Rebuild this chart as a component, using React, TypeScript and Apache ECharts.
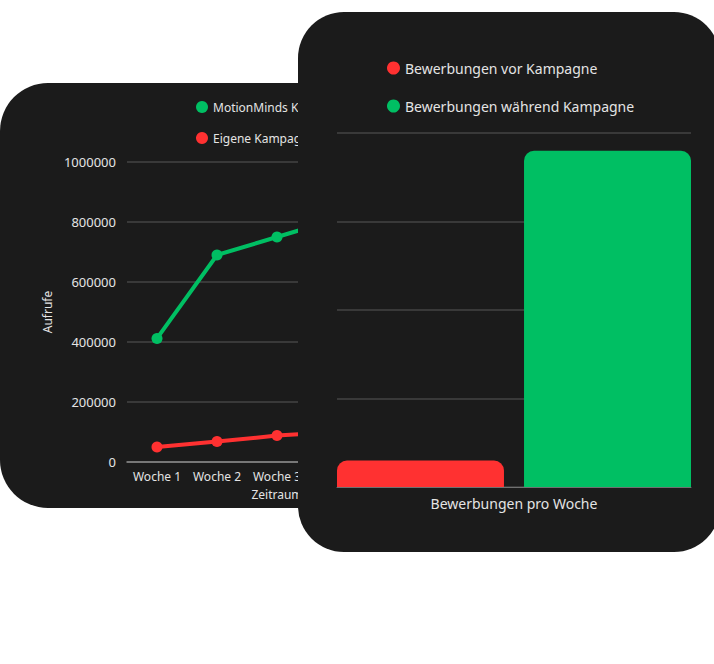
import React, { useEffect, useRef } from 'react';
import * as echarts from 'echarts';

const weeks = ['Woche 1', 'Woche 2', 'Woche 3', 'Woche 4', 'Woche 5'];
const motionMinds = [412000, 690000, 750000, 810000, 860000];
const ownCampaign = [50000, 68000, 88000, 100000, 115000];

const barCategories = ['Bewerbungen pro Woche'];
const beforeCampaign = [3];
const duringCampaign = [38];

const GREEN = '#00bf63';
const RED = '#ff3131';
const TEXT = '#e4e4e4';
const GRID_LINE = '#444444';
const FONT = '"Noto Sans", sans-serif';

const LineCard: React.FC = () => {
  const ref = useRef<HTMLDivElement>(null);

  useEffect(() => {
    if (!ref.current) return;
    const chart = echarts.init(ref.current, undefined, { renderer: 'svg' });

    chart.setOption({
      animation: false,
      textStyle: { fontFamily: FONT },
      legend: {
        orient: 'vertical',
        left: 191,
        top: 13,
        icon: 'circle',
        itemWidth: 12,
        itemHeight: 12,
        itemGap: 19,
        textStyle: { color: TEXT, fontSize: 12, fontFamily: FONT },
        data: ['MotionMinds Kampagne', 'Eigene Kampagne']
      },
      grid: { left: 127, top: 79, width: 300, height: 300 },
      xAxis: {
        type: 'category',
        data: weeks,
        name: 'Zeitraum',
        nameLocation: 'middle',
        nameGap: 26,
        nameTextStyle: { color: TEXT, fontSize: 12, fontFamily: FONT },
        axisLine: { lineStyle: { color: '#8c8c8c', width: 1.5 } },
        axisTick: { show: false },
        axisLabel: { color: TEXT, fontSize: 12, margin: 8, interval: 0, fontFamily: FONT }
      },
      yAxis: {
        type: 'value',
        min: 0,
        max: 1000000,
        interval: 200000,
        name: 'Aufrufe',
        nameLocation: 'middle',
        nameGap: 74,
        nameTextStyle: { color: TEXT, fontSize: 12, fontFamily: FONT },
        axisLine: { show: false },
        axisTick: { show: false },
        axisLabel: {
          color: TEXT,
          fontSize: 13,
          margin: 11,
          fontFamily: FONT,
          formatter: (v: number) => String(v)
        },
        splitLine: { lineStyle: { color: GRID_LINE, width: 1.5 } }
      },
      series: [
        {
          name: 'MotionMinds Kampagne',
          type: 'line',
          data: motionMinds,
          color: GREEN,
          symbol: 'circle',
          symbolSize: 11,
          lineStyle: { width: 4 }
        },
        {
          name: 'Eigene Kampagne',
          type: 'line',
          data: ownCampaign,
          color: RED,
          symbol: 'circle',
          symbolSize: 11,
          lineStyle: { width: 4 }
        }
      ]
    });

    return () => {
      chart.dispose();
    };
  }, []);

  return <div ref={ref} style={{ width: '100%', height: '100%' }} />;
};

const BarCard: React.FC = () => {
  const ref = useRef<HTMLDivElement>(null);

  useEffect(() => {
    if (!ref.current) return;
    const chart = echarts.init(ref.current, undefined, { renderer: 'svg' });

    chart.setOption({
      animation: false,
      textStyle: { fontFamily: FONT },
      legend: {
        orient: 'vertical',
        left: 84,
        top: 44,
        icon: 'circle',
        itemWidth: 13,
        itemHeight: 13,
        itemGap: 24,
        textStyle: { color: TEXT, fontSize: 14, fontFamily: FONT },
        data: ['Bewerbungen vor Kampagne', 'Bewerbungen während Kampagne']
      },
      grid: { left: 39, top: 121, width: 354, height: 354 },
      xAxis: {
        type: 'category',
        data: barCategories,
        axisLine: { lineStyle: { color: '#707070', width: 1 } },
        axisTick: { show: false },
        axisLabel: { color: TEXT, fontSize: 14, margin: 9, fontFamily: FONT }
      },
      yAxis: {
        type: 'value',
        min: 0,
        max: 40,
        interval: 10,
        axisLine: { show: false },
        axisTick: { show: false },
        axisLabel: { show: false },
        splitLine: { lineStyle: { color: GRID_LINE, width: 1.5 } }
      },
      series: [
        {
          name: 'Bewerbungen vor Kampagne',
          type: 'bar',
          data: beforeCampaign,
          color: RED,
          barWidth: 167,
          barGap: '12%',
          barCategoryGap: 0,
          itemStyle: { borderRadius: [10, 10, 0, 0] }
        },
        {
          name: 'Bewerbungen während Kampagne',
          type: 'bar',
          data: duringCampaign,
          color: GREEN,
          barWidth: 167,
          barGap: '12%',
          barCategoryGap: 0,
          itemStyle: { borderRadius: [10, 10, 0, 0] }
        }
      ]
    });

    return () => {
      chart.dispose();
    };
  }, []);

  return <div ref={ref} style={{ width: '100%', height: '100%' }} />;
};

const App: React.FC = () => {
  return (
    <div
      style={{
        position: 'fixed',
        left: 0,
        top: 0,
        width: 714,
        height: 664,
        overflow: 'hidden',
        background: '#ffffff'
      }}
    >
      <div
        style={{
          position: 'absolute',
          left: 0,
          top: 83,
          width: 460,
          height: 425,
          borderRadius: 48,
          background: '#1b1b1b',
          overflow: 'hidden'
        }}
      >
        <LineCard />
      </div>
      <div
        style={{
          position: 'absolute',
          left: 298,
          top: 12,
          width: 422,
          height: 540,
          borderRadius: 46,
          background: '#1b1b1b',
          overflow: 'hidden',
          zIndex: 2
        }}
      >
        <BarCard />
      </div>
    </div>
  );
};

export default App;
